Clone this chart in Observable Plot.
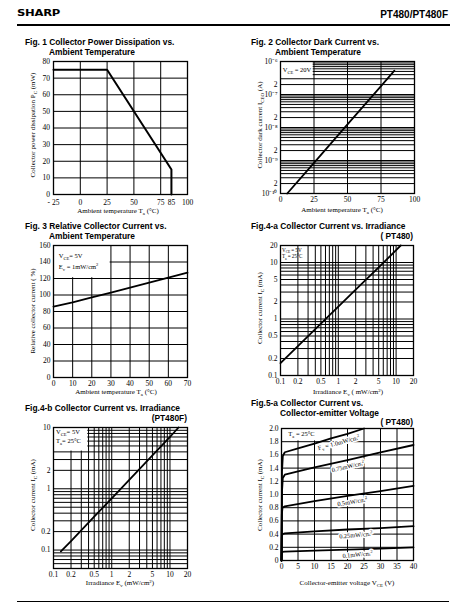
<!DOCTYPE html>
<html><head><meta charset="utf-8">
<script src="https://cdn.jsdelivr.net/npm/d3@7"></script>
<script src="https://cdn.jsdelivr.net/npm/@observablehq/plot@0.6"></script>
<style>
html,body{margin:0;padding:0;background:#fff;}
body{width:467px;height:611px;position:relative;overflow:hidden;font-family:"Liberation Serif","Times New Roman",serif;color:#000;}
.abs{position:absolute;white-space:nowrap;line-height:1;}
.title{font-family:"Liberation Sans",Arial,sans-serif;font-weight:bold;font-size:8.4px;}
.lab{font-size:7px;transform:translate(-50%,-50%);}
.rot{transform:translate(-50%,-50%) rotate(-90deg);}
sub{font-size:0.7em;vertical-align:baseline;position:relative;top:0.35em;}
sup{font-size:0.7em;vertical-align:baseline;position:relative;top:-0.4em;}
.rule{position:absolute;background:#000;}
</style></head><body>
<script>
// ---------------- DATA ----------------
// Fig 1: collector power dissipation vs ambient temperature
const fig1Temp = [-25, 25, 85, 85];
const fig1Power = [75, 75, 15, 0];
const fig1XTicks = [-25, 0, 25, 50, 75, 85, 100];
const fig1YTicks = [0, 10, 20, 30, 40, 50, 60, 70, 80];

// Fig 2: collector dark current vs ambient temperature
const fig2Temp = [5, 25, 50, 75, 85];
const fig2Dark = [1e-10, 8.5e-10, 1.25e-8, 1.8e-7, 5.3e-7];
const fig2XTicks = [0, 25, 50, 75, 100];
const fig2YTicks = [1e-10, 2e-10, 5e-10, 1e-9, 2e-9, 5e-9, 1e-8, 2e-8, 5e-8, 1e-7, 2e-7, 5e-7, 1e-6];
const fig2Box = [{x1: 0, x2: 25, y1: 3e-7, y2: 1e-6}];

// Fig 3: relative collector current vs ambient temperature
const fig3Temp = [0, 10, 20, 30, 40, 50, 60, 70];
const fig3Rel = [86, 91, 97, 103, 109, 115, 121, 127];
const fig3XTicks = [0, 10, 20, 30, 40, 50, 60, 70];
const fig3YTicks = [0, 20, 40, 60, 80, 100, 120, 140, 160];
const fig3Box = [{x1: 0, x2: 30, y1: 120, y2: 160}];

// Fig 4-a: collector current vs irradiance (PT480)
const fig4aIrr = [0.1, 0.2, 0.5, 1, 2, 5, 10, 12];
const fig4aIc = [0.165, 0.33, 0.83, 1.65, 3.3, 8.2, 16.5, 20];
const fig4aTicks = [0.1, 0.2, 0.5, 1, 2, 5, 10, 20];

// Fig 4-b: collector current vs irradiance (PT480F)
const fig4bIrr = [0.134, 0.2, 0.5, 1, 2, 5, 10, 14];
const fig4bIc = [0.095, 0.14, 0.35, 0.7, 1.4, 3.5, 7, 10];
const fig4bXTicks = [0.1, 0.2, 0.5, 1, 2, 5, 10, 20];
const fig4bYTicks = [0.05, 0.1, 0.2, 0.5, 1, 2, 5, 10];
const fig4bBox = [{x1: 0.1, x2: 0.4, y1: 4, y2: 10}];

// Fig 5-a: collector current vs collector-emitter voltage (PT480)
const ev10V = [0, 0.15, 0.4, 1, 5, 10, 15, 20, 25];
const ev10I = [0, 1.35, 1.58, 1.64, 1.70, 1.77, 1.85, 1.92, 2.0];
const ev075V = [0, 0.15, 0.4, 1, 5, 10, 20, 30, 40];
const ev075I = [0, 1.05, 1.25, 1.30, 1.35, 1.41, 1.52, 1.64, 1.75];
const ev05V = [0, 0.1, 0.3, 1, 10, 20, 30, 40];
const ev05I = [0, 0.70, 0.80, 0.82, 0.90, 0.98, 1.05, 1.13];
const ev025V = [0, 0.1, 0.3, 1, 10, 20, 30, 40];
const ev025I = [0, 0.36, 0.40, 0.41, 0.44, 0.47, 0.49, 0.52];
const ev01V = [0, 0.1, 0.3, 1, 10, 20, 30, 40];
const ev01I = [0, 0.11, 0.13, 0.135, 0.15, 0.165, 0.18, 0.20];
const fig5XTicks = [0, 5, 10, 15, 20, 25, 30, 35, 40];
const fig5YTicks = [0, 0.2, 0.4, 0.6, 0.8, 1.0, 1.2, 1.4, 1.6, 1.8, 2.0];
const fig5Box = [{x1: 0, x2: 15, y1: 1.8, y2: 2.0}];
const fig5LabelV = [17.5, 20.3, 21.6, 22.7, 23.2];
const fig5LabelI = [1.78, 1.42, 0.885, 0.38, 0.085];
const fig5LabelAngle = [-15, -13, -9, -5, -5];

// ---------------- HELPERS ----------------
const SERIF = "Liberation Serif, Times New Roman, serif";
function place(html, x, y, cls, extra) {
  const d = document.createElement("div");
  d.className = "abs " + cls;
  d.style.left = x + "px"; d.style.top = y + "px";
  if (extra) Object.assign(d.style, extra);
  d.innerHTML = html;
  document.body.appendChild(d);
  return d;
}
function rule(x, y, w, h) {
  const d = document.createElement("div");
  d.className = "rule";
  Object.assign(d.style, {left: x + "px", top: y + "px", width: w + "px", height: h + "px"});
  document.body.appendChild(d);
}
function makePlot(frame, opts) {
  const [x0, y0, x1, y1] = frame;
  const ml = 36, mr = 14, mt = 8, mb = 16;
  const svg = Plot.plot({
    width: (x1 - x0) + ml + mr,
    height: (y1 - y0) + mt + mb,
    marginLeft: ml, marginRight: mr, marginTop: mt, marginBottom: mb,
    style: {fontFamily: SERIF, fontSize: "7.5px", background: "transparent", overflow: "visible", color: "black"},
    ...opts
  });
  svg.style.position = "absolute";
  svg.style.left = (x0 - ml) + "px";
  svg.style.top = (y0 - mt) + "px";
  svg.style.maxWidth = "none";
  document.body.appendChild(svg);
  return svg;
}
function richText(svg, x, y, parts, o = {}) {
  const sx = svg.scale("x"), sy = svg.scale("y");
  const size = o.size || 6.5;
  const px = sx.apply(x), py = sy.apply(y);
  const t = d3.select(svg).append("text")
    .attr("transform", `translate(${px},${py}) rotate(${o.angle || 0}) translate(0,${size * 0.35})`)
    .attr("text-anchor", o.anchor || "start")
    .attr("font-family", SERIF).attr("font-size", size).attr("fill", "black");
  if (o.halo) t.attr("stroke", "white").attr("stroke-width", 3).attr("stroke-linejoin", "round").attr("paint-order", "stroke");
  let shift = 0;
  for (const p of parts) {
    const [s, k] = Array.isArray(p) ? p : [p, null];
    const target = k === "sub" ? size * 0.3 : k === "sup" ? -size * 0.4 : 0;
    t.append("tspan").text(s).attr("dy", target - shift).attr("font-size", k ? size * 0.7 : size);
    shift = target;
  }
}
function logGrid(lo, hi) {
  const out = [];
  for (let e = -12; e <= 3; e++) for (let m = 1; m <= 9; m++) {
    const v = +(m * Math.pow(10, e)).toPrecision(6);
    if (v > lo * 1.0001 && v < hi * 0.9999) out.push(v);
  }
  return out;
}
const G = {stroke: "black", strokeWidth: 1};
const axisX = (o) => ({tickSize: 0, tickPadding: 3, label: null, ...o});
const axisY = (o) => ({tickSize: 0, tickPadding: 3, label: null, ...o});

// ---------------- PAGE HEADER ----------------
place("SHARP", 17, 9.5, "", {fontFamily: "DejaVu Sans, sans-serif", fontWeight: "900", fontSize: "8px", transform: "scaleX(1.45)", transformOrigin: "left top", letterSpacing: "-0.2px"});
place("PT480/PT480F", 448, 9.5, "", {fontFamily: "Liberation Sans, Arial, sans-serif", fontWeight: "bold", fontSize: "10px", transform: "translateX(-100%)"});
rule(17, 23.5, 433, 2.5);
rule(17, 601, 432, 1.2);

// ---------------- FIG 1 ----------------
place("Fig. 1 Collector Power Dissipation vs.", 25, 37.5, "title");
place("Ambient Temperature", 49, 47.5, "title");
const p1 = makePlot([53, 61, 187, 194], {
  x: axisX({domain: [-25, 100], ticks: fig1XTicks, tickPadding: 5.5, tickFormat: d => d < 0 ? "- " + Math.abs(d) : String(d)}),
  y: axisY({domain: [0, 80], ticks: fig1YTicks, tickPadding: 3.5}),
  marks: [
    Plot.ruleX([0, 25, 50, 75], G),
    Plot.ruleY([10, 20, 30, 40, 50, 60, 70], G),
    Plot.line(fig1Temp.map((t, i) => ({t, p: fig1Power[i]})), {x: "t", y: "p", stroke: "black", strokeWidth: 2}),
    Plot.frame({stroke: "black", strokeWidth: 1.3})
  ]
});
place("Ambient temperature T<sub>a</sub> (°C)", 118, 211, "lab");
place("Collector power dissipation P<sub>C</sub> (mW)", 33, 125, "rot", {fontSize: "7px"});

// ---------------- FIG 2 ----------------
const sup = {"-": "\u207B", "0": "\u2070", "1": "\u00B9", "2": "\u00B2", "3": "\u00B3", "4": "\u2074", "5": "\u2075", "6": "\u2076", "7": "\u2077", "8": "\u2078", "9": "\u2079"};
function fig2Fmt(d) {
  const e = Math.floor(Math.log10(d) + 1e-9);
  const m = Math.round(d / Math.pow(10, e));
  return m === 1 ? "10" + String(e).split("").map(c => sup[c]).join("") : String(m);
}
place("Fig. 2 Collector Dark Current vs.", 251, 37.5, "title");
place("Ambient Temperature", 275, 47.5, "title");
const p2 = makePlot([280, 61, 414, 193], {
  x: axisX({domain: [0, 100], ticks: fig2XTicks}),
  y: axisY({type: "log", domain: [1e-10, 1e-6], ticks: fig2YTicks, tickFormat: fig2Fmt}),
  marks: [
    Plot.ruleX([25, 50, 75], G),
    Plot.ruleY(logGrid(1e-10, 1e-6), G),
    Plot.rect(fig2Box, {x1: "x1", x2: "x2", y1: "y1", y2: "y2", fill: "white", inset: 0.8}),
    Plot.line(fig2Temp.map((t, i) => ({t, c: fig2Dark[i]})), {x: "t", y: "c", stroke: "black", strokeWidth: 1.8}),
    Plot.frame({stroke: "black", strokeWidth: 1.3})
  ]
});
richText(p2, 2, 5.4e-7, ["V", ["CE", "sub"], " = 20V"], {size: 6.5});
place("Ambient temperature T<sub>a</sub> (°C)", 342, 210, "lab");
place("Collector dark current I<sub>CEO</sub> (A)", 260, 125, "rot", {fontSize: "7px"});

// ---------------- FIG 3 ----------------
place("Fig. 3 Relative Collector Current vs.", 25, 221.5, "title");
place("Ambient Temperature", 49, 231.5, "title");
const p3 = makePlot([53, 245, 187, 377], {
  x: axisX({domain: [0, 70], ticks: fig3XTicks}),
  y: axisY({domain: [0, 160], ticks: fig3YTicks}),
  marks: [
    Plot.ruleX([10, 20, 30, 40, 50, 60], G),
    Plot.ruleY([20, 40, 60, 80, 100, 120, 140], G),
    Plot.rect(fig3Box, {x1: "x1", x2: "x2", y1: "y1", y2: "y2", fill: "white", inset: 0.8}),
    Plot.line(fig3Temp.map((t, i) => ({t, r: fig3Rel[i]})), {x: "t", y: "r", stroke: "black", strokeWidth: 1.8}),
    Plot.frame({stroke: "black", strokeWidth: 1.3})
  ]
});
richText(p3, 3, 147, ["V", ["CE", "sub"], "= 5V"], {size: 6.5});
richText(p3, 3, 134, ["E", ["v", "sub"], " = 1mW/cm", ["2", "sup"]], {size: 6.5});
place("Ambient temperature T<sub>a</sub> (°C)", 116, 392, "lab");
place("Relative collector current ( %)", 33, 311, "rot", {fontSize: "7px"});

// ---------------- FIG 4-a ----------------
place("Fig.4-a Collector Current vs. Irradiance", 251, 221.5, "title");
place("( PT480)", 413, 231.5, "title", {transform: "translateX(-100%)"});
const p4a = makePlot([280, 245, 413, 375], {
  x: axisX({type: "log", domain: [0.1, 20], ticks: fig4aTicks, tickFormat: d => String(d)}),
  y: axisY({type: "log", domain: [0.1, 20], ticks: fig4aTicks, tickFormat: d => String(d)}),
  marks: [
    Plot.ruleX(logGrid(0.1, 20), G),
    Plot.ruleY(logGrid(0.1, 20), G),
    Plot.line(fig4aIrr.map((e, i) => ({e, c: fig4aIc[i]})), {x: "e", y: "c", stroke: "black", strokeWidth: 1.8}),
    Plot.frame({stroke: "black", strokeWidth: 1.3})
  ]
});
richText(p4a, 0.108, 16.5, ["V", ["CE", "sub"], "\u2009=\u20095V"], {size: 5.2});
richText(p4a, 0.108, 12.6, ["T", ["a", "sub"], "\u2009=\u200925°C"], {size: 5.2});
place("Irradiance E<sub>v</sub> ( mW/cm<sup>2</sup>)", 348, 392, "lab");
place("Collector current I<sub>C</sub> (mA)", 260, 308, "rot", {fontSize: "7px"});

// ---------------- FIG 4-b ----------------
place("Fig.4-b Collector Current vs. Irradiance", 25, 404, "title");
place("(PT480F)", 187, 414, "title", {transform: "translateX(-100%)"});
const p4b = makePlot([53, 427, 187, 568], {
  x: axisX({type: "log", domain: [0.1, 20], ticks: fig4bXTicks, tickFormat: d => String(d)}),
  y: axisY({type: "log", domain: [0.05, 10], ticks: fig4bYTicks, tickFormat: d => String(d)}),
  marks: [
    Plot.ruleX(logGrid(0.1, 20), G),
    Plot.ruleY(logGrid(0.05, 10), G),
    Plot.rect(fig4bBox, {x1: "x1", x2: "x2", y1: "y1", y2: "y2", fill: "white", inset: 0.8}),
    Plot.line(fig4bIrr.map((e, i) => ({e, c: fig4bIc[i]})), {x: "e", y: "c", stroke: "black", strokeWidth: 1.8}),
    Plot.frame({stroke: "black", strokeWidth: 1.3})
  ]
});
richText(p4b, 0.113, 8.3, ["V", ["CE", "sub"], "= 5V"], {size: 6.5});
richText(p4b, 0.113, 6.0, ["T", ["a", "sub"], "= 25°C"], {size: 6.5});
place("Irradiance E<sub>v</sub> (mW/cm<sup>2</sup>)", 120, 583, "lab");
place("Collector current I<sub>C</sub> (mA)", 33, 495, "rot", {fontSize: "7px"});

// ---------------- FIG 5-a ----------------
place("Fig.5-a Collector Current vs.", 251, 399, "title");
place("Collector-emitter Voltage", 280, 408.5, "title");
place("( PT480)", 413, 417.5, "title", {transform: "translateX(-100%)"});
const fig5Rows = [
  ...ev10V.map((v, i) => ({s: "1.0", v, c: ev10I[i]})),
  ...ev075V.map((v, i) => ({s: "0.75", v, c: ev075I[i]})),
  ...ev05V.map((v, i) => ({s: "0.5", v, c: ev05I[i]})),
  ...ev025V.map((v, i) => ({s: "0.25", v, c: ev025I[i]})),
  ...ev01V.map((v, i) => ({s: "0.1", v, c: ev01I[i]}))
];
const p5 = makePlot([281, 428, 413, 560], {
  x: axisX({domain: [0, 40], ticks: fig5XTicks}),
  y: axisY({domain: [0, 2], ticks: fig5YTicks, tickFormat: d => d === 0 ? "0" : d.toFixed(1)}),
  marks: [
    Plot.ruleX([5, 10, 15, 20, 25, 30, 35], G),
    Plot.ruleY([0.2, 0.4, 0.6, 0.8, 1.0, 1.2, 1.4, 1.6, 1.8], G),
    Plot.rect(fig5Box, {x1: "x1", x2: "x2", y1: "y1", y2: "y2", fill: "white", inset: 0.8}),
    Plot.line(fig5Rows, {x: "v", y: "c", z: "s", stroke: "black", strokeWidth: 1.8}),
    Plot.frame({stroke: "black", strokeWidth: 1.3})
  ]
});
richText(p5, 2.2, 1.92, ["T", ["a", "sub"], " = 25°C"], {size: 6.5});
const fig5LabelParts = [
  ["E", ["v", "sub"], " = 1.0mW/cm", ["2", "sup"]],
  ["0.75mW/cm", ["2", "sup"]],
  ["0.5mW/cm", ["2", "sup"]],
  ["0.25mW/cm", ["2", "sup"]],
  ["0.1mW/cm", ["2", "sup"]]
];
fig5LabelParts.forEach((parts, i) => richText(p5, fig5LabelV[i], fig5LabelI[i], parts, {size: 6.3, anchor: "middle", angle: fig5LabelAngle[i], halo: true}));
place("Collector-emitter voltage V<sub>CE</sub> (V)", 347, 583, "lab");
place("Collector current I<sub>C</sub> (mA)", 260, 495, "rot", {fontSize: "7px"});
</script>
</body></html>
